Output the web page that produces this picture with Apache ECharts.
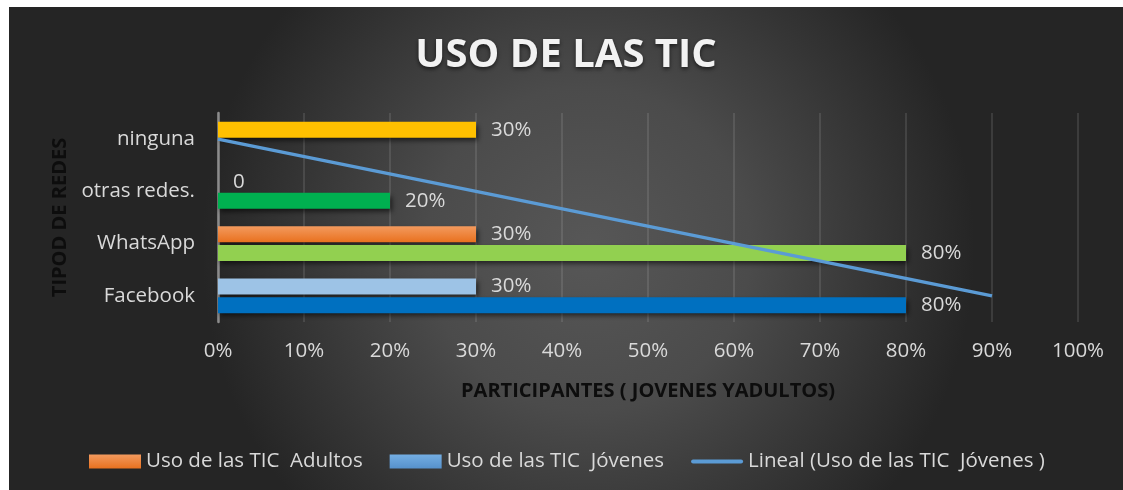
<!DOCTYPE html>
<html>
<head>
<meta charset="utf-8">
<script src="https://cdn.jsdelivr.net/npm/echarts@6/dist/echarts.min.js"></script>
<style>
  html, body { margin: 0; padding: 0; background: #ffffff; }
  #main { position: absolute; left: 9px; top: 7px; width: 1114px; height: 483px; }
</style>
</head>
<body>
<div id="main"></div>
<script>
// datos
var categorias = ['Facebook', 'WhatsApp', 'otras redes.', 'ninguna'];
var usoAdultos = [30, 30, 0, 30];
var usoJovenes = [80, 80, 20, null];
var lineal = [90, 60, 30, 0]; // linea de tendencia (Jóvenes)
var ticksX = [0, 10, 20, 30, 40, 50, 60, 70, 80, 90, 100];

var nombreAdultos = 'Uso de las TIC  Adultos';
var nombreJovenes = 'Uso de las TIC  Jóvenes';
var nombreLineal = 'Lineal (Uso de las TIC  Jóvenes )';

// colores por punto
var naranja = new echarts.graphic.LinearGradient(0, 0, 0, 1, [
    {offset: 0, color: '#F39A5E'}, {offset: 1, color: '#E9711F'}
]);
var azulLeyenda = new echarts.graphic.LinearGradient(0, 0, 0, 1, [
    {offset: 0, color: '#74AEE3'}, {offset: 1, color: '#5691CC'}
]);
var coloresAdultos = ['#9DC3E6', naranja, '#ED7D31', '#FFC000'];
var coloresJovenes = ['#0070C0', '#92D050', '#00B050', '#5B9BD5'];

var fuente = '"Open Sans", sans-serif';
var gris = '#D9D9D9';

var sombra = {
    shadowColor: 'rgba(0,0,0,0.6)',
    shadowBlur: 5,
    shadowOffsetX: 2,
    shadowOffsetY: 3
};

function etiqueta(p) {
    if (p.value === 0) return '0';
    return p.value + '%';
}

function armarDatos(valores, colores) {
    var res = [];
    for (var i = 0; i < valores.length; i++) {
        res.push({
            value: valores[i] == null ? '-' : valores[i],
            itemStyle: { color: colores[i] }
        });
    }
    return res;
}

var myChart = echarts.init(document.getElementById('main'));

var option = {
    backgroundColor: new echarts.graphic.RadialGradient(0.52, 0.5, 0.8, [
        {offset: 0, color: '#575757'},
        {offset: 0.42, color: '#4b4b4b'},
        {offset: 1, color: '#252525'}
    ]),
    animation: false,
    title: {
        text: 'USO DE LAS TIC',
        left: 'center',
        top: 24,
        textStyle: {
            fontFamily: fuente,
            fontSize: 40,
            fontWeight: 'bold',
            color: '#F2F2F2',
            textShadowColor: 'rgba(0,0,0,0.6)',
            textShadowBlur: 4,
            textShadowOffsetY: 2
        }
    },
    legend: {
        top: 439,
        left: 75,
        itemWidth: 52,
        itemHeight: 14,
        itemGap: 27,
        data: [
            {name: nombreAdultos, icon: 'rect'},
            {name: nombreJovenes, icon: 'rect'},
            {name: nombreLineal, icon: 'path://M2,0h48a2,2 0 0 1 0,4h-48a2,2 0 0 1 0,-4z'}
        ],
        textStyle: { fontFamily: fuente, fontSize: 20.5, color: gris }
    },
    grid: { left: 209, top: 106, width: 860, height: 209 },
    xAxis: {
        type: 'value',
        min: ticksX[0],
        max: ticksX[ticksX.length - 1],
        interval: 10,
        name: 'PARTICIPANTES ( JOVENES YADULTOS)',
        nameLocation: 'middle',
        nameGap: 59,
        nameTextStyle: { fontFamily: fuente, fontSize: 20, fontWeight: 'bold', color: '#0D0D0D' },
        axisLine: { show: false },
        axisTick: { show: false },
        axisLabel: {
            margin: 19,
            fontFamily: fuente,
            fontSize: 20.5,
            color: gris,
            formatter: function (v) { return v + '%'; }
        },
        splitLine: { lineStyle: { color: 'rgba(217,217,217,0.13)', width: 2 } }
    },
    yAxis: {
        type: 'category',
        data: categorias,
        name: 'TIPOD DE REDES',
        nameLocation: 'middle',
        nameGap: 145,
        nameTextStyle: { fontFamily: fuente, fontSize: 20, fontWeight: 'bold', color: '#0D0D0D' },
        axisLine: { show: true, lineStyle: { color: '#8C8C8C', width: 2.5 } },
        axisTick: { show: false },
        axisLabel: { margin: 23, fontFamily: fuente, fontSize: 20.5, color: gris }
    },
    series: [
        {
            name: nombreAdultos,
            type: 'bar',
            barWidth: 16,
            barGap: '18%',
            itemStyle: Object.assign({ color: naranja }, sombra),
            label: {
                show: true, position: 'right', distance: 15,
                fontFamily: fuente, fontSize: 20.5, color: gris, formatter: etiqueta
            },
            data: armarDatos(usoAdultos, coloresAdultos)
        },
        {
            name: nombreJovenes,
            type: 'bar',
            barWidth: 16,
            barGap: '18%',
            itemStyle: Object.assign({ color: azulLeyenda }, sombra),
            label: {
                show: true, position: 'right', distance: 15,
                fontFamily: fuente, fontSize: 20.5, color: gris, formatter: etiqueta
            },
            data: armarDatos(usoJovenes, coloresJovenes)
        },
        {
            name: nombreLineal,
            type: 'line',
            symbol: 'none',
            z: 5,
            lineStyle: { color: '#5B9BD5', width: 3.5 },
            itemStyle: { color: '#5B9BD5' },
            data: lineal
        }
    ]
};

myChart.setOption(option);
</script>
</body>
</html>
